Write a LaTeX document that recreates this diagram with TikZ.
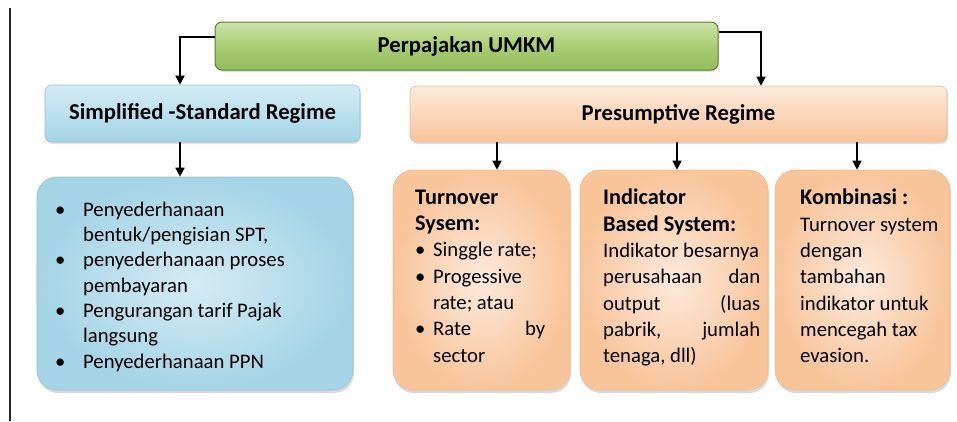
\documentclass[tikz,border=0pt]{standalone}
\usepackage{fontspec}
\setmainfont{Carlito}
\usetikzlibrary{arrows.meta,shadows}
\definecolor{gTop}{HTML}{CDE3A8}
\definecolor{gMid}{HTML}{A9CD72}
\definecolor{gBot}{HTML}{94BC5C}
\definecolor{gDraw}{HTML}{5E7E34}
\definecolor{bTop}{HTML}{D4ECF4}
\definecolor{bBot}{HTML}{A4D4E6}
\definecolor{bDraw}{HTML}{96C2D2}
\definecolor{oLight}{HTML}{FDEADB}
\definecolor{oDark}{HTML}{F8C49A}
\definecolor{oDraw}{HTML}{EDBD98}
\begin{document}
\begin{tikzpicture}[x=1pt,y=-1pt,
  hdfont/.style={font=\bfseries\fontsize{22.7}{26}\selectfont},
  greenbox/.style={rounded corners=7pt, draw=gDraw, line width=1pt, top color=gTop, bottom color=gBot, middle color=gMid, hdfont,
     drop shadow={opacity=0.25, shadow xshift=1pt, shadow yshift=-2pt}},
  bluehead/.style={rounded corners=7pt, draw=bDraw, line width=0.6pt, top color=bTop, bottom color=bBot, hdfont,
     drop shadow={opacity=0.25, shadow xshift=1pt, shadow yshift=-2pt}},
  orangehead/.style={rounded corners=7pt, draw=oDraw, line width=0.6pt, top color=oLight, bottom color=oDark, hdfont,
     drop shadow={opacity=0.25, shadow xshift=1pt, shadow yshift=-2pt}},
  bluebody/.style={rounded corners=20pt, draw=bDraw, line width=0.6pt, inner color=bTop, outer color=bBot,
     drop shadow={opacity=0.3, shadow xshift=1pt, shadow yshift=-3pt}},
  orangebody/.style={rounded corners=20pt, draw=oDraw, line width=0.6pt, inner color=oLight, outer color=oDark,
     drop shadow={opacity=0.3, shadow xshift=1pt, shadow yshift=-3pt}},
  txt/.style={anchor=north west, inner sep=0pt, align=left, font=\fontsize{20.7}{26.3}\selectfont},
  hb/.style={font=\bfseries\fontsize{22.3}{26.3}\selectfont},
  arr/.style={line width=1.5pt, -{Triangle[length=9pt,width=9pt]}}
]
\useasboundingbox (0,0) rectangle (957,421);
\draw[line width=1.5pt, black!85] (10,8) -- (10,421);

\node[greenbox, minimum width=503pt, minimum height=48pt] (top) at (466.5,46) {Perpajakan UMKM};
\node[bluehead, minimum width=315pt, minimum height=57pt] (simp) at (202.5,113.5) {Simplified -Standard Regime};
\node[orangehead, minimum width=537pt, minimum height=56pt] (pres) at (678.5,114) {Presumptive Regime};

\node[bluebody, minimum width=316pt, minimum height=213pt] (cont) at (195,283.5) {};
\node[orangebody, minimum width=177pt, minimum height=220pt] (turn) at (481.5,280) {};
\node[orangebody, minimum width=188pt, minimum height=220pt] (ind) at (674,280) {};
\node[orangebody, minimum width=175pt, minimum height=220pt] (komb) at (862.5,280) {};

% arrows
\draw[arr] ([yshift=9pt]top.west) -| ([xshift=-22.5pt]simp.north);
\draw[arr] ([yshift=14pt]top.east) -| ([xshift=82.5pt]pres.north);
\draw[arr] ([xshift=-22.5pt]simp.south) -- ([xshift=-22.5pt]simp.south |- cont.north);
\draw[arr] ([xshift=15.5pt]turn.north |- pres.south) -- ([xshift=15.5pt]turn.north);
\draw[arr] ([xshift=3pt]ind.north |- pres.south) -- ([xshift=3pt]ind.north);
\draw[arr] ([xshift=-5.5pt]komb.north |- pres.south) -- ([xshift=-5.5pt]komb.north);

% texts
\node[txt, font=\fontsize{20.7}{25.3}\selectfont] (bl) at (55,201) {\rule{0pt}{15pt}\makebox[28pt][l]{\textbullet}Penyederhanaan\\
\hspace*{28pt}bentuk/pengisian SPT,\\
\makebox[28pt][l]{\textbullet}penyederhanaan proses\\
\hspace*{28pt}pembayaran\\
\makebox[28pt][l]{\textbullet}Pengurangan tarif Pajak\\
\hspace*{28pt}langsung\\
\makebox[28pt][l]{\textbullet}Penyederhanaan PPN};

\node[txt] (tt) at (415,189) {\rule{0pt}{15pt}{\bfseries\fontsize{22.3}{26.3}\selectfont Turnover}\\
{\bfseries\fontsize{22.3}{26.3}\selectfont Sysem:}\\
\makebox[18pt][l]{\textbullet}Singgle rate;\\
\makebox[18pt][l]{\textbullet}Progessive\\
\hspace*{18pt}rate; atau\\
\makebox[18pt][l]{\textbullet}\makebox[112pt][s]{Rate by}\\
\hspace*{18pt}sector};

\node[txt] (it) at (603,189) {\rule{0pt}{15pt}{\bfseries\fontsize{22.3}{26.3}\selectfont Indicator}\\
{\bfseries\fontsize{22.3}{26.3}\selectfont Based System:}\\
Indikator besarnya\\
\makebox[157pt][s]{perusahaan dan}\\
\makebox[157pt][s]{output (luas}\\
\makebox[157pt][s]{pabrik, jumlah}\\
tenaga, dll)};

\node[txt] (kt) at (800,189) {\rule{0pt}{15pt}{\bfseries\fontsize{22.3}{26.3}\selectfont Kombinasi :}\\
Turnover system\\
dengan\\
tambahan\\
indikator untuk\\
mencegah tax\\
evasion.};
\end{tikzpicture}
\end{document}
